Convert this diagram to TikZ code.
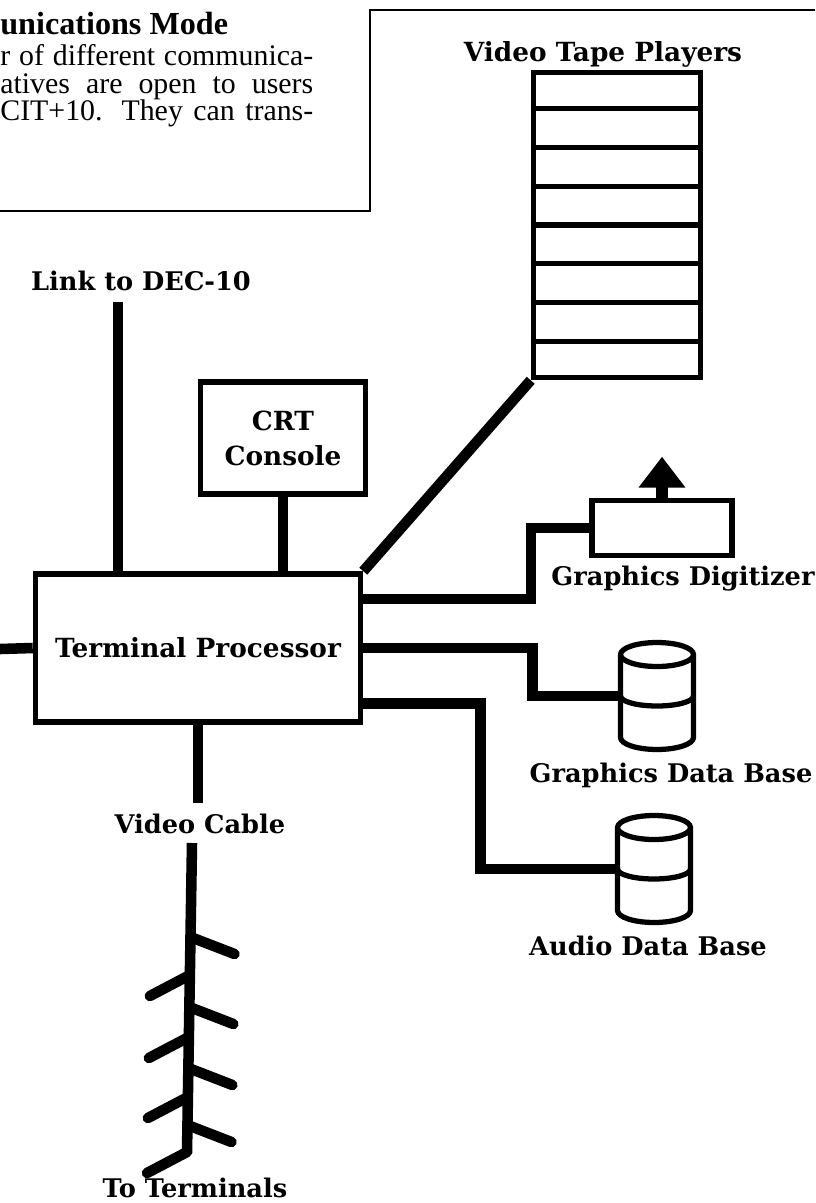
\documentclass[tikz,border=0pt]{standalone}
\usepackage{fontspec}
\setmainfont{Liberation Serif}
\newfontfamily\slabfont{DejaVu Serif}
\usetikzlibrary{shapes.geometric, arrows.meta, positioning, calc}

\begin{document}
\begin{tikzpicture}[x=0.02cm, y=-0.02cm,
    conn/.style={line width=6pt},
    unit/.style={draw, line width=3.2pt, rectangle, inner sep=0pt, align=center,
                 font=\slabfont\bfseries\fontsize{15}{20}\selectfont},
    dbase/.style={rectangle, outer sep=0pt, inner sep=0pt, minimum width=1.46cm, minimum height=1.66cm},
    dbline/.style={line width=3pt, line join=round},
    lbl/.style={anchor=base, inner sep=0pt, font=\slabfont\bfseries\fontsize{14.6}{20}\selectfont},
    txt/.style={anchor=base west, inner sep=0pt, font=\fontsize{17}{18}\selectfont}]

    \useasboundingbox (0,0) rectangle (815,1203);

    \node[txt, font=\bfseries\fontsize{18.3}{18}\selectfont] (head) at (0,35) {unications Mode};
    \node[txt] (line1) at (0,66) {\makebox[6.26cm][s]{r of different communica-}};
    \node[txt] (line2) at (0,93) {\makebox[6.26cm][s]{atives are open to users}};
    \node[txt] (line3) at (0,120) {\makebox[6.26cm][s]{CIT+10. They can trans-}};
    \coordinate (frameleft) at (0,211);
    \coordinate (frameright) at (815,10);
    \draw[line width=1.2pt] (frameleft) -| (370,10) -- (frameright);

    \node[unit, minimum width=3.34cm, minimum height=6.1cm] (tape) at (617,225) {};
    \foreach \k in {1,...,7}
        \draw[line width=3pt] ($(tape.north west)!{\k/8}!(tape.south west)$) -- ($(tape.north east)!{\k/8}!(tape.south east)$);
    \node[lbl, font=\slabfont\bfseries\fontsize{15}{20}\selectfont] (tapelbl) at (603,62) {Video Tape Players};

    \node[unit, minimum width=3.3cm, minimum height=2.24cm] (crt) at (283,438) {CRT\\Console};
    \node[unit, minimum width=6.5cm, minimum height=2.96cm] (tp) at (198,648) {Terminal Processor};
    \node[unit, minimum width=2.8cm, minimum height=1.1cm] (dig) at (662,528) {};
    \draw[line width=7pt, -{Triangle[width=0.9cm, length=0.62cm]}] (dig.north) -- ++(0,-41);
    \node[dbase] (gdb) at (657,696) {};
    \node[dbase] (adb) at (654,869) {};
    \foreach \db in {gdb, adb} {
        \draw[dbline] (\db.north west) -- (\db.south west)
            arc[start angle=180, end angle=360, x radius=0.73cm, y radius=0.24cm] -- (\db.north east)
            arc[start angle=0, end angle=360, x radius=0.73cm, y radius=0.24cm];
        \draw[dbline] (\db.west) arc[start angle=180, end angle=360, x radius=0.73cm, y radius=0.2cm];
    }

    \node[lbl] (declbl) at (141,290) {Link to DEC-10};
    \node[lbl] (diglbl) at (683,585) {Graphics Digitizer};
    \node[lbl] (gdblbl) at (671,782) {Graphics Data Base};
    \node[lbl] (adblbl) at (648,955) {Audio Data Base};
    \node[lbl] (cable) at (200,833) {Video Cable};
    \node[lbl] (termlbl) at (195,1197) {To Terminals};

    \coordinate (dec) at (118,302);
    \coordinate (offleft) at (0,649);
    \draw[conn] (dec) -- (dec |- tp.north);
    \draw[conn] (crt.south) -- (crt.south |- tp.north);
    \draw[conn] (tape.south west) -- (tp.north east);
    \draw[conn] (tp.west) -- (offleft);
    \draw[conn] ($(tp.north east)!0.18!(tp.south east)$) -| ($(dig.west)+(-58,0)$) -- (dig.west);
    \draw[conn] (tp.east) -| ($(gdb.west)+(-88,0)$) -- (gdb.west);
    \draw[conn] ($(tp.north east)!0.86!(tp.south east)$) -| ($(adb.west)+(-137,0)$) -- (adb.west);
    \draw[conn, shorten >=6pt] (tp.south) -- (tp.south |- cable.north);

    \coordinate (ttop) at (192,843);
    \coordinate (tbot) at (187,1153);
    \draw[conn] (ttop) -- (tbot);
    \foreach \r/\l in {94/132, 164/194, 225/254, 282/309} {
        \draw[conn, line cap=round] ($(ttop)!{\r/310}!(tbot)$) -- ++(44,17);
        \draw[conn, line cap=round] ($(ttop)!{\l/310}!(tbot)$) -- ++(-40,21);
    }
\end{tikzpicture}
\end{document}
